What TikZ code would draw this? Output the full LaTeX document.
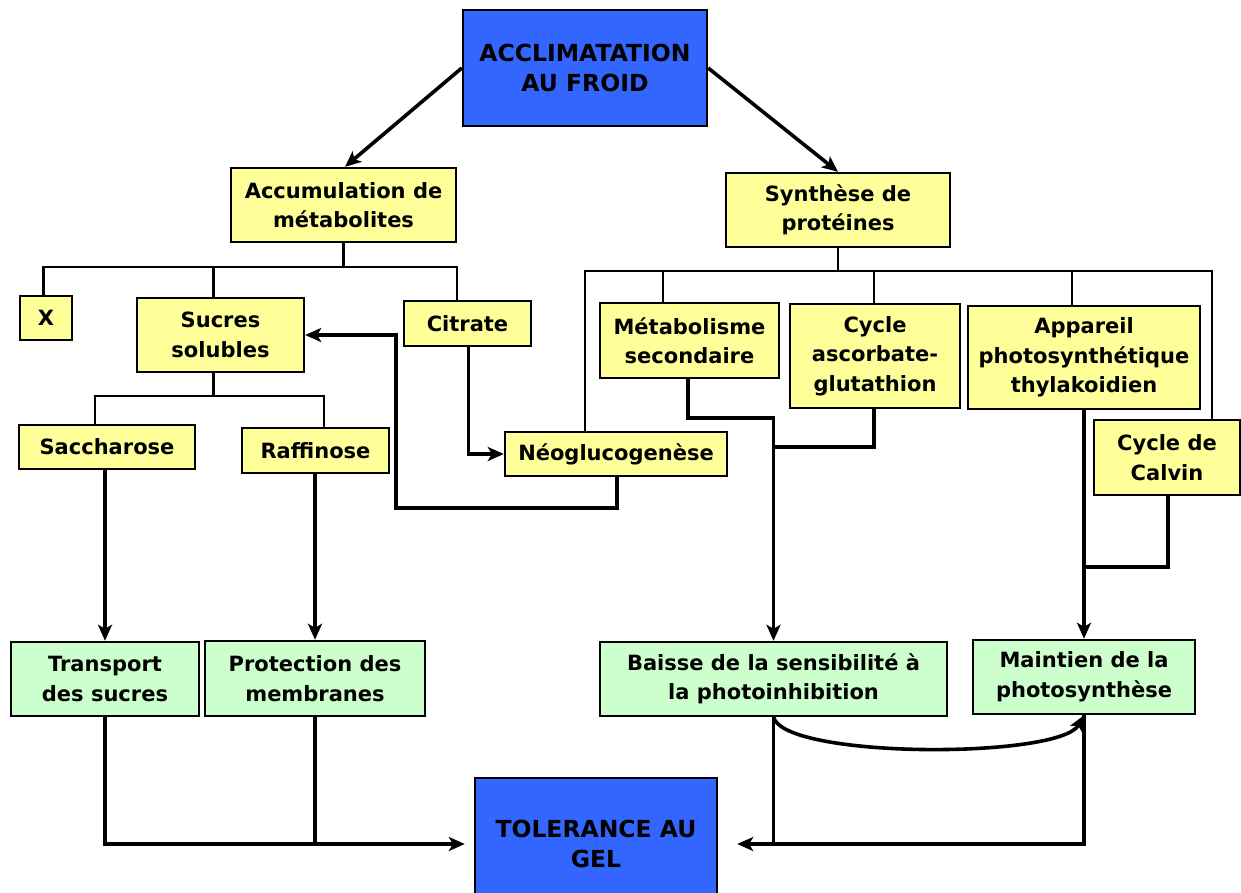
\documentclass[tikz,border=0pt]{standalone}
\usepackage{fontspec}
\setmainfont{DejaVu Sans}
\usetikzlibrary{arrows.meta}
\definecolor{boxblue}{HTML}{3366FF}
\definecolor{boxyellow}{HTML}{FFFF99}
\definecolor{boxgreen}{HTML}{CCFFCC}
\tikzset{
  basebox/.style={draw=black, line width=2.4, align=center, inner sep=0,
    font=\bfseries\fontsize{21}{29.5}\selectfont},
  ybox/.style={basebox, fill=boxyellow},
  gbox/.style={basebox, fill=boxgreen},
  bbox/.style={basebox, fill=boxblue, font=\bfseries\fontsize{23.5}{29.5}\selectfont},
  bus/.style={line width=2.4},
  thk/.style={line width=3.6},
  arr/.style={line width=3.6, -{Stealth[length=16, width=14, inset=4]}},
}
\begin{document}
\begin{tikzpicture}[x=1pt, y=-1pt]
\useasboundingbox (0,0) rectangle (1241,892);

% main boxes
\node[bbox, minimum width=244, minimum height=116] (acc) at (585,68) {ACCLIMATATION\\AU FROID};
\node[ybox, minimum width=225, minimum height=74] (accum) at (343.5,205) {Accumulation de\\métabolites};
\node[ybox, minimum width=224, minimum height=74] (synth) at (838,210) {Synthèse de\\protéines};

% metabolites branch
\node[ybox, minimum width=52, minimum height=44] (X) at (46,318) {X};
\node[ybox, minimum width=167, minimum height=74] (sucres) at (220.5,335) {Sucres\\solubles};
\node[ybox, minimum width=127, minimum height=45] (citrate) at (467.5,323.5) {Citrate};
\node[ybox, minimum width=176, minimum height=44] (sacch) at (107,447) {Saccharose};
\node[ybox, minimum width=147, minimum height=45] (raff) at (315.5,450.5) {Raffinose};
\node[ybox, minimum width=222, minimum height=44] (neo) at (616,454) {Néoglucogenèse};

% protein branch
\node[ybox, minimum width=179, minimum height=75] (metab) at (689.5,340.5) {Métabolisme\\secondaire};
\node[ybox, minimum width=170, minimum height=104] (cycasc) at (875,356) {Cycle\\ascorbate-\\glutathion};
\node[ybox, minimum width=232, minimum height=103] (appar) at (1084,357.5) {Appareil\\photosynthétique\\thylakoidien};
\node[ybox, minimum width=146, minimum height=75] (calvin) at (1167,457.5) {Cycle de\\Calvin};

% effects
\node[gbox, minimum width=188, minimum height=74] (transport) at (105,679) {Transport\\des sucres};
\node[gbox, minimum width=220, minimum height=75] (protection) at (315,678.5) {Protection des\\membranes};
\node[gbox, minimum width=347, minimum height=74] (baisse) at (773.5,679) {Baisse de la sensibilité à\\la photoinhibition};
\node[gbox, minimum width=222, minimum height=74] (maintien) at (1084,677) {Maintien de la\\photosynthèse};
\node[bbox, minimum width=242, minimum height=132] (tol) at (596,844) {TOLERANCE AU\\GEL};

% top arrows
\draw[arr] (acc.west) -- ([xshift=1.5]accum.north);
\draw[arr] (acc.east) -- (synth.north);

% bus under the metabolites
\draw[bus] (accum.south) -- ++(0,24) coordinate (jL);
\draw[bus] ([xshift=-2.5]X.north) |- (jL);
\draw[bus] ([xshift=-7]sucres.north) |- (jL);
\draw[bus] ([xshift=-10.5]citrate.north) |- (jL);

% bus under the proteins
\draw[bus] (synth.south) -- ++(0,23) coordinate (jR);
\draw[bus] ([xshift=-31]neo.north) |- (jR);
\draw[bus] ([xshift=-26.5]metab.north) |- (jR);
\draw[bus] ([xshift=-1]cycasc.north) |- (jR);
\draw[bus] ([xshift=-12]appar.north) |- (jR);
\draw[bus] ([xshift=45]calvin.north) |- (jR);

% bus under the soluble sugars
\draw[bus] ([xshift=-7]sucres.south) -- ++(0,23) coordinate (jS);
\draw[bus] ([xshift=-12]sacch.north) |- (jS);
\draw[bus] ([xshift=8.5]raff.north) |- (jS);

% citrate and gluconeogenesis loop
\draw[arr] ([xshift=1]citrate.south) |- (neo.west);
\coordinate (loopL) at (396,508);
\draw[arr] ([xshift=1]neo.south) |- (loopL) |- (sucres.east);

% sugars to their roles
\draw[arr] (transport.north |- sacch.south) -- (transport.north);
\draw[arr] (protection.north |- raff.south) -- (protection.north);

% protein effects
\coordinate (jM) at (773.5,418);
\coordinate (jC) at (773.5,447);
\draw[arr] ([xshift=-1.5]metab.south) |- (jM) -- (baisse.north);
\draw[thk] ([xshift=-1]cycasc.south) |- (jC);
\coordinate (jA) at (1084,567);
\draw[arr] (appar.south) -- (maintien.north);
\draw[thk] ([xshift=1]calvin.south) |- (jA);

% towards freezing tolerance
\draw[arr] (transport.south) |- ([xshift=-9]tol.west);
\draw[thk] (protection.south) -- (protection.south |- tol.west);
\draw[arr] (baisse.south) |- ([xshift=19]tol.east);
\draw[thk] (maintien.south) |- (baisse.south |- tol.east);
\draw[arr] (baisse.south) .. controls (785,759) and (1060,759) .. (maintien.south);
\end{tikzpicture}
\end{document}
